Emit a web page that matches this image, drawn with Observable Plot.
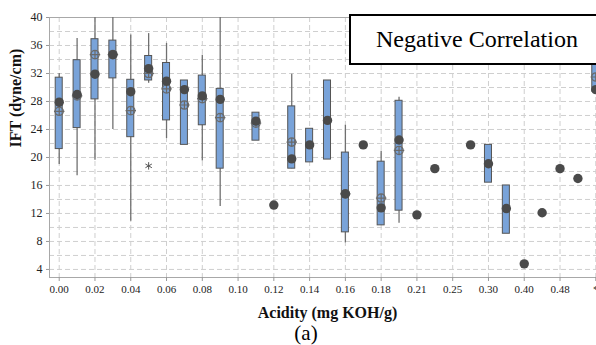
<!DOCTYPE html>
<html>
<head>
<meta charset="utf-8">
<script src="https://cdn.jsdelivr.net/npm/d3@7"></script>
<script src="https://cdn.jsdelivr.net/npm/@observablehq/plot@0.6"></script>
<style>
  html, body { margin: 0; padding: 0; background: #fff; overflow: hidden; }
  #wrap { position: relative; width: 596px; height: 345px; overflow: hidden; }
  #chart { position: absolute; left: 0; top: 0; width: 605px; }
  #note {
    position: absolute; left: 349px; top: 14px; width: 270px; height: 47px;
    border: 2px solid #000; background: #fff;
    font-family: "Liberation Serif", serif; font-size: 24px; line-height: 47px;
    padding-left: 25px; box-sizing: content-box; color: #000; white-space: nowrap;
  }
  #cap {
    position: absolute; left: 266px; top: 320px; width: 80px; text-align: center;
    font-family: "Liberation Serif", serif; font-size: 21px; line-height: 26px; color: #000;
  }
</style>
</head>
<body>
<div id="wrap">
  <div id="chart"></div>
  <div id="note">Negative Correlation</div>
  <div id="cap">(a)</div>
</div>
<script>
const categories = ["0.00","0.01","0.02","0.03","0.04","0.05","0.06","0.07","0.08","0.09",
  "0.10","0.11","0.12","0.13","0.14","0.15","0.16","0.17","0.18","0.19",
  "0.21","0.22","0.25","0.27","0.30","0.35","0.40","0.45","0.48","0.50","*"];
const medians = [27.9,29.0,31.9,34.7,29.4,32.7,30.9,29.7,28.8,28.3,
  null,25.2,13.2,19.8,21.8,25.3,14.8,21.8,12.8,22.5,
  11.8,18.4,null,21.8,19.1,12.7,4.8,12.1,18.4,17.0,29.7];
const means = [26.6,28.8,34.7,34.7,26.7,32.0,29.8,27.5,28.4,25.7,
  null,24.9,null,22.2,null,null,14.8,null,14.2,21.0,
  null,null,null,null,null,null,null,null,null,null,31.5];
const q1s = [21.2,24.2,28.3,31.3,22.9,31.0,25.3,21.8,24.6,18.4,
  null,22.4,null,18.4,19.3,19.7,9.3,null,10.3,12.4,
  null,null,null,null,16.4,9.1,null,null,null,null,29.4];
const q3s = [31.4,33.9,36.9,36.7,31.1,34.5,33.5,31.0,31.7,29.8,
  null,26.4,null,27.3,24.1,31.0,20.7,null,19.4,28.1,
  null,null,null,null,21.8,16.0,null,null,null,null,34.0];
const whiskerLows = [19.0,17.4,19.6,24.0,10.9,30.6,22.7,null,19.5,13.0,
  null,null,null,18.4,null,null,7.8,null,10.3,10.6,
  null,null,null,null,null,null,null,null,null,null,null];
const whiskerHighs = [32.0,37.0,40,40,37.5,37.7,36.3,null,34.6,40,
  null,null,null,31.9,null,null,24.6,null,20.9,28.6,
  null,null,null,null,null,null,null,null,null,null,null];
const outlierCats = ["0.05"];
const outlierValues = [18.8];
const yTicks = [4,8,12,16,20,24,28,32,36,40];
const xTickLabels = categories.filter((d, i) => i % 2 === 0);

const rows = categories.map((c, i) => ({
  cat: c, median: medians[i], mean: means[i], q1: q1s[i], q3: q3s[i],
  lo: whiskerLows[i], hi: whiskerHighs[i]
}));
const outliers = outlierCats.map((c, i) => ({cat: c, v: outlierValues[i]}));

const circlePlus = {
  draw(ctx, size) {
    const r = Math.sqrt(size / Math.PI);
    ctx.moveTo(r, 0);
    ctx.arc(0, 0, r, 0, 2 * Math.PI);
    ctx.moveTo(-r * 1.25, 0); ctx.lineTo(r * 1.25, 0);
    ctx.moveTo(0, -r); ctx.lineTo(0, r);
  }
};

const serif = "Liberation Serif";
const chart = Plot.plot({
  width: 605, height: 320,
  marginLeft: 49, marginRight: 0, marginTop: 17, marginBottom: 43,
  style: {fontFamily: serif, background: "transparent", overflow: "visible", maxWidth: "none"},
  x: {type: "band", domain: categories, paddingInner: 0.608, paddingOuter: 0.347, round: false},
  y: {domain: [2.85, 40]},
  marks: [
    Plot.gridY(d3.range(4, 40, 2), {stroke: "#cfcfcf", strokeOpacity: 1, strokeDasharray: "5,3"}),
    Plot.gridX(xTickLabels, {stroke: "#cfcfcf", strokeOpacity: 1, strokeDasharray: "5,3"}),
    Plot.frame({stroke: "#a8a8a8"}),
    Plot.axisY({ticks: yTicks, tickSize: 3, tickPadding: 4, fontSize: 12, fill: "#222", stroke: "#999", label: null}),
    Plot.axisX({ticks: xTickLabels, tickSize: 4, tickPadding: 4, fontSize: 11, fill: "#222", stroke: "#999", label: null}),
    Plot.ruleX(rows.filter(d => d.lo != null), {x: "cat", y1: "lo", y2: "hi", stroke: "#707070", strokeWidth: 1.3}),
    Plot.barY(rows.filter(d => d.q1 != null), {x: "cat", y1: "q1", y2: "q3", fill: "#79a3d9", stroke: "#555", strokeWidth: 1}),
    Plot.dot(rows.filter(d => d.mean != null), {x: "cat", y: "mean", r: 4.2, symbol: circlePlus, stroke: "#6a6a6a", strokeWidth: 1.2, fill: "none"}),
    Plot.dot(rows.filter(d => d.median != null), {x: "cat", y: "median", r: 4.7, fill: "#4a4a4a", stroke: "none"}),
    Plot.dot(outliers, {x: "cat", y: "v", r: 3.5, symbol: "asterisk", stroke: "#555", strokeWidth: 1}),
    Plot.text(["Acidity (mg KOH/g)"], {frameAnchor: "bottom", dy: 35, fontSize: 16, fontWeight: "bold", fill: "#111", lineAnchor: "middle"}),
    Plot.text(["IFT (dyne/cm)"], {frameAnchor: "left", dx: -34, rotate: -90, fontSize: 16, fontWeight: "bold", fill: "#111", lineAnchor: "middle"})
  ]
});
document.getElementById("chart").appendChild(chart);
</script>
</body>
</html>
